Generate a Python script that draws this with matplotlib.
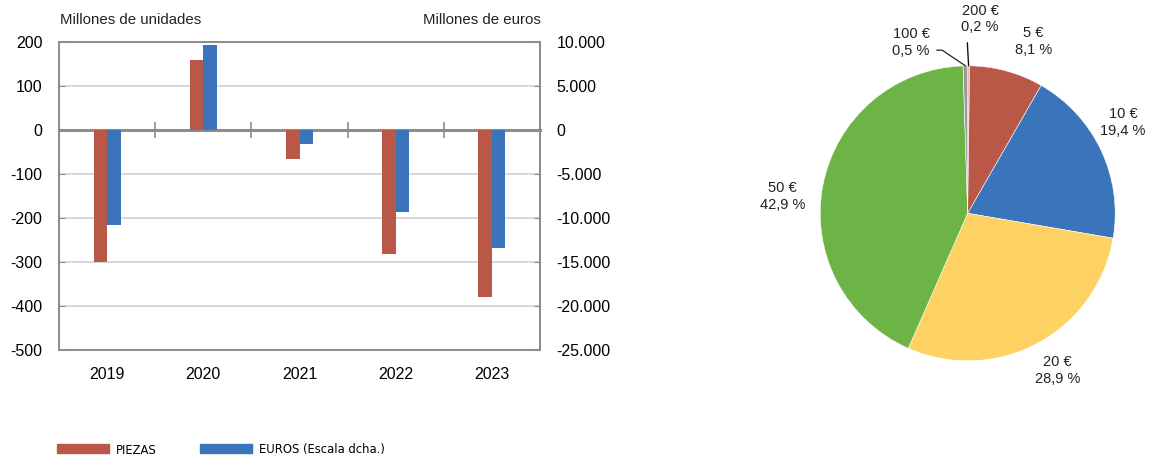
import matplotlib
matplotlib.use("Agg")
import matplotlib.pyplot as plt
import numpy as np
from matplotlib import font_manager
from matplotlib.patches import Patch

plt.rcParams["font.family"] = ["Liberation Sans", "DejaVu Sans"]
plt.rcParams["axes.unicode_minus"] = False

# annual net change in banknotes withdrawn vs. issued
years = ["2019", "2020", "2021", "2022", "2023"]
piezas = [-301, 158, -66, -282, -380]          # millones de unidades
euros = [-10850, 9580, -1640, -9350, -13400]    # millones de euros

# share of banknotes by denomination
denoms = ["200 €", "5 €", "10 €", "20 €", "50 €", "100 €"]
shares = [0.2, 8.1, 19.4, 28.9, 42.9, 0.5]

RED = "#BA5847"
BLUE = "#3A74BA"
pie_colors = ["#EDB9B4", RED, BLUE, "#FDD262", "#6DB446", "#9A9A9A"]
GRID = "#D4D4D4"
AXIS = "#8C8C8C"
TEXT = "#222222"


def thousands(v):
    s = f"{abs(int(v)):,}".replace(",", ".")
    return ("-" if v < 0 else "") + s


# condensed face for the legend, whichever is available
fonts = font_manager.fontManager.ttflist
names = {f.name for f in fonts}
if "Liberation Sans Narrow" in names:
    legend_prop = {"family": "Liberation Sans Narrow", "size": 10.3}
elif any(f.name == "DejaVu Sans" and "condensed" in str(f.stretch) for f in fonts):
    legend_prop = {"family": "DejaVu Sans", "stretch": "condensed", "size": 9.3}
else:
    legend_prop = {"family": "Liberation Sans", "size": 9.0}

fig = plt.figure(figsize=(11.5, 4.59), dpi=100)

# ---- bar chart with two scales ----
ax = fig.add_axes([59 / 1150, 1 - 350 / 459, 481 / 1150, 308.3 / 459])
ax2 = ax.twinx()

x = np.arange(len(years))
w = 0.14
ax.bar(x - w / 2, piezas, w, color=RED, zorder=3)
ax2.bar(x + w / 2, euros, w, color=BLUE, zorder=3)

ax.set_xlim(-0.5, len(years) - 0.5)
ax.set_ylim(-500, 200)
ax2.set_ylim(-25000, 10000)
ax.set_yticks(np.arange(-500, 201, 100))
ax2.set_yticks(np.arange(-25000, 10001, 5000))
ax2.set_yticklabels([thousands(v) for v in np.arange(-25000, 10001, 5000)])

ax.set_xticks(x)
ax.set_xticklabels(years)
ax.tick_params(axis="x", length=0, pad=12, labelsize=11.5)
ax.tick_params(axis="y", length=4, direction="in", color=AXIS, pad=12,
               labelsize=11.5)
ax2.tick_params(axis="y", length=4, direction="in", color=AXIS, pad=12,
                labelsize=11.5)

ax.grid(axis="y", color=GRID, lw=1.3, zorder=0)
ax.set_axisbelow(True)
for a in (ax, ax2):
    for sp in a.spines.values():
        sp.set_color(AXIS)
        sp.set_linewidth(1.3)
ax2.set_zorder(ax.get_zorder() + 1)
ax2.patch.set_visible(False)

# zero line with category separators
zero_frac = (0 - ax.get_ylim()[0]) / (ax.get_ylim()[1] - ax.get_ylim()[0])
zx = ax.secondary_xaxis(zero_frac)
zx.set_xticks(np.arange(0.5, len(years) - 1, 1.0))
zx.tick_params(length=11, direction="inout", color=AXIS, width=1.2,
               labelbottom=False, labeltop=False)
for sp in zx.spines.values():
    sp.set_color(AXIS)
    sp.set_linewidth(2.2)
zx.set_zorder(2)

fig.text(60 / 1150, 1 - 20 / 459, "Millones de unidades", fontsize=10.8,
         ha="left", va="center", color=TEXT)
fig.text(541 / 1150, 1 - 20 / 459, "Millones de euros", fontsize=10.8,
         ha="right", va="center", color=TEXT)

handles = [Patch(color=RED, label="PIEZAS"),
           Patch(color=BLUE, label="EUROS (Escala dcha.)")]
fs_px = legend_prop["size"] * 100 / 72
fig.legend(handles=handles, loc="center left",
           bbox_to_anchor=(57 / 1150, 1 - 450 / 459), ncol=2, frameon=False,
           borderpad=0, borderaxespad=0, handlelength=52 / fs_px,
           handleheight=9 / fs_px, handletextpad=7 / fs_px,
           columnspacing=43 / fs_px, prop=legend_prop)

# ---- pie chart ----
r_px = 147.5
cx, cy = 967.7, 459 - 213.3
span = 1.5 * r_px
pax = fig.add_axes([(cx - span) / 1150, (cy - span) / 459,
                    2 * span / 1150, 2 * span / 459])
wedges, _ = pax.pie(shares, colors=pie_colors, startangle=90,
                    counterclock=False, radius=1,
                    wedgeprops=dict(edgecolor="white", linewidth=0.4))
pax.set_xlim(-1.5, 1.5)
pax.set_ylim(-1.5, 1.5)
pax.set_aspect("equal")
pax.axis("off")


def label_text(name, val):
    return f"{name}\n{val:.1f} %".replace(".", ",")


# (angle nudge in degrees, radial distance) for the outside labels
label_place = {"5 €": (-5.7, 1.245), "10 €": (5.2, 1.22),
               "20 €": (1.5, 1.23), "50 €": (5.7, 1.26)}
for wdg, name, val in zip(wedges, denoms, shares):
    mid = np.deg2rad((wdg.theta1 + wdg.theta2) / 2)
    if name in label_place:
        nudge, dist = label_place[name]
        ang = mid + np.deg2rad(nudge)
        pax.text(dist * np.cos(ang), dist * np.sin(ang), label_text(name, val),
                 ha="center", va="center", fontsize=10.5, color=TEXT,
                 linespacing=1.25)
    else:
        edge = (np.cos(mid), np.sin(mid))
        if name == "100 €":
            pax.annotate(label_text(name, val), xy=edge, xytext=(-0.384, 1.158),
                         ha="center", va="center", fontsize=10.5,
                         color=TEXT, linespacing=1.25,
                         arrowprops=dict(arrowstyle="-", color=TEXT, lw=0.9,
                                         relpos=(1, 0.25), shrinkA=3, shrinkB=0,
                                         connectionstyle="angle,angleA=0,angleB=-34,rad=0"))
        else:
            pax.annotate(label_text(name, val), xy=edge, xytext=(0.083, 1.317),
                         ha="center", va="center", fontsize=10.5,
                         color=TEXT, linespacing=1.25,
                         arrowprops=dict(arrowstyle="-", color="#111111", lw=1.0,
                                         relpos=(0.15, 0), shrinkA=4, shrinkB=0))

fig.savefig("out.png", dpi=100)
